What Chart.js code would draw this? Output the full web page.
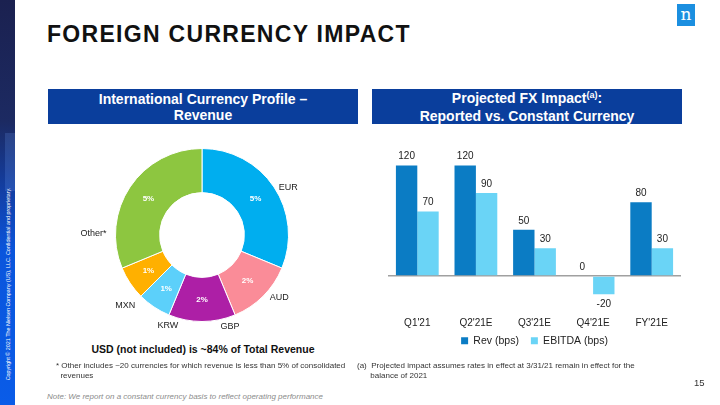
<!DOCTYPE html>
<html>
<head>
<meta charset="utf-8">
<script src="https://cdn.jsdelivr.net/npm/chart.js@4.4.0/dist/chart.umd.min.js"></script>
<style>
  body { margin: 0; width: 720px; height: 405px; position: relative; overflow: hidden; background: #fff;
         font-family: "Liberation Sans", Arial, sans-serif; color: #222; }
  .abs { position: absolute; }
  .strip { left: 0; top: 0; width: 15px; height: 405px;
           background: linear-gradient(to bottom, #1b2150 0%, #1c2a62 30%, #1240a8 48%, #0a55dc 62%, #0a5ce8 100%); }
  .band { left: 5px; top: 133px; width: 10px; height: 58px; background: rgba(120,170,255,0.18); }
  .copy { left: -101px; top: 280px; width: 218px; height: 8px; line-height: 8px; font-size: 5.4px; color: #fff;
          text-align: center; transform: rotate(-90deg); white-space: nowrap; }
  .logo { left: 677px; top: 4px; width: 18px; height: 22px; background: #1b8fe0; color: #fff;
          font: 17px "DejaVu Serif", "Liberation Serif", serif; text-align: center; line-height: 20px; }
  .title { left: 47px; top: 21px; font-size: 23px; font-weight: bold; letter-spacing: 1.3px; color: #111; white-space: nowrap; }
  .head { top: 89px; height: 35px; background: #0a3e9c; color: #fff; font-weight: bold; font-size: 14px;
          line-height: 16px; display: flex; align-items: center; justify-content: center; text-align: center; }
  .head sup { font-size: 9px; vertical-align: 0; position: relative; top: -5px; }
  .usd { left: 48px; top: 343px; width: 310px; text-align: center; font-weight: bold; font-size: 10.5px; color: #111; }
  .fn { font-size: 8px; line-height: 9.5px; color: #333; white-space: nowrap; }
  .note { left: 47px; top: 392px; font-size: 8px; font-style: italic; color: #8c8c8c; white-space: nowrap; }
  .page { left: 694px; top: 377px; font-size: 9.5px; color: #333; }
</style>
</head>
<body>
<div class="abs strip"></div>
<div class="abs band"></div>
<div class="abs copy">Copyright © 2021 The Nielsen Company (US), LLC. Confidential and proprietary.</div>
<div class="abs logo">n</div>
<div class="abs title">FOREIGN CURRENCY IMPACT</div>

<div class="abs head" style="left:48px;width:310px;"><span>International Currency Profile –<br>Revenue</span></div>
<div class="abs head" style="left:372px;width:310px;"><span>Projected FX Impact<sup>(a)</sup>:<br>Reported vs. Constant Currency</span></div>

<div class="abs" style="left:62px;top:135px;width:280px;height:205px;"><canvas id="donut"></canvas></div>
<div class="abs" style="left:372px;top:140px;width:318px;height:236px;"><canvas id="bars"></canvas></div>

<div class="abs usd">USD (not included) is ~84% of Total Revenue</div>
<div class="abs fn" style="left:56px;top:361px;">* Other includes ~20 currencies for which revenue is less than 5% of consolidated<br>&nbsp;&nbsp;revenues</div>
<div class="abs fn" style="left:357px;top:361px;">(a)&nbsp; Projected impact assumes rates in effect at 3/31/21 remain in effect for the<br>&nbsp;&nbsp;&nbsp;&nbsp;&nbsp;&nbsp;balance of 2021</div>
<div class="abs note">Note: We report on a constant currency basis to reflect operating performance</div>
<div class="abs page">15</div>

<script>
// donut : part du revenu par devise (%)
const currencies = ['EUR', 'AUD', 'GBP', 'KRW', 'MXN', 'Other*'];
const shares = [5, 2, 2, 1, 1, 5];
const sliceColors = ['#00aeef', '#fa8c98', '#ad1fa6', '#5cd0fa', '#ffb000', '#8dc640'];

// barres : impact FX en bps
const periods = ["Q1'21", "Q2'21E", "Q3'21E", "Q4'21E", "FY'21E"];
const revBps = [120, 120, 50, 0, 80];
const ebitdaBps = [70, 90, 30, -20, 30];

const FONT = '"Liberation Sans", Arial, sans-serif';

// étiquettes du donut (dans et hors des tranches)
const donutLabels = {
  id: 'donutLabels',
  afterDatasetsDraw(chart, args, opts) {
    const ctx = chart.ctx;
    const meta = chart.getDatasetMeta(0);
    ctx.save();
    ctx.textAlign = 'center';
    ctx.textBaseline = 'middle';
    meta.data.forEach((arc, i) => {
      const p = arc.tooltipPosition();
      ctx.fillStyle = '#fff';
      ctx.font = 'bold 8px ' + FONT;
      ctx.fillText(shares[i] + '%', p.x, p.y);

      const a = (arc.startAngle + arc.endAngle) / 2 + opts.shift[i] * Math.PI / 180;
      const r = arc.outerRadius + opts.gap[i];
      ctx.fillStyle = '#222';
      ctx.font = '9px ' + FONT;
      ctx.fillText(currencies[i], arc.x + Math.cos(a) * r, arc.y + Math.sin(a) * r);
    });
    ctx.restore();
  }
};

new Chart(document.getElementById('donut'), {
  type: 'doughnut',
  data: {
    labels: currencies,
    datasets: [{
      data: shares,
      backgroundColor: sliceColors,
      borderColor: '#fff',
      borderWidth: 1
    }]
  },
  options: {
    responsive: true,
    maintainAspectRatio: false,
    animation: false,
    cutout: '49%',
    layout: { padding: { left: 53, right: 53, top: 13, bottom: 18 } },
    plugins: {
      legend: { display: false },
      tooltip: { enabled: false },
      donutLabels: {
        shift: [5, -6, -17, -13, -9, -33],
        gap: [12, 13, 9, 10, 18, 22]
      }
    }
  },
  plugins: [donutLabels]
});

// valeurs au-dessus / au-dessous des barres
const barValues = {
  id: 'barValues',
  afterDatasetsDraw(chart) {
    const ctx = chart.ctx;
    ctx.save();
    ctx.fillStyle = '#222';
    ctx.font = '10px ' + FONT;
    ctx.textAlign = 'center';
    ctx.textBaseline = 'middle';
    chart.data.datasets.forEach((ds, di) => {
      chart.getDatasetMeta(di).data.forEach((bar, i) => {
        const v = ds.data[i];
        const y = v < 0 ? bar.y + 10 : bar.y - 9;
        ctx.fillText(String(v), bar.x, y);
      });
    });
    ctx.restore();
  }
};

// remonter la légende juste sous les libellés
const legendUp = {
  id: 'legendUp',
  afterLayout(chart) {
    chart.legend.top -= 20;
    chart.legend.bottom -= 20;
  }
};

new Chart(document.getElementById('bars'), {
  type: 'bar',
  data: {
    labels: periods,
    datasets: [
      { label: 'Rev (bps)', data: revBps, backgroundColor: '#0b7cc4' },
      { label: 'EBITDA (bps)', data: ebitdaBps, backgroundColor: '#6ad4f6' }
    ]
  },
  options: {
    responsive: true,
    maintainAspectRatio: false,
    animation: false,
    barPercentage: 1,
    categoryPercentage: 0.73,
    layout: { padding: { left: 16, right: 9, top: 7, bottom: 0 } },
    plugins: {
      legend: {
        position: 'bottom',
        labels: { boxWidth: 7, boxHeight: 7, padding: 12, color: '#222', font: { family: FONT, size: 10.5 } }
      },
      tooltip: { enabled: false }
    },
    scales: {
      x: {
        grid: { display: false, drawTicks: false },
        border: { display: false },
        ticks: { color: '#222', padding: 14, font: { family: FONT, size: 10 } }
      },
      y: {
        min: -30,
        max: 140,
        ticks: { display: false, stepSize: 10 },
        border: { display: false },
        grid: {
          drawTicks: false,
          lineWidth: 1.5,
          color: (c) => c.tick && c.tick.value === 0 ? '#a0a0a0' : 'transparent'
        }
      }
    }
  },
  plugins: [barValues, legendUp]
});
</script>
</body>
</html>
